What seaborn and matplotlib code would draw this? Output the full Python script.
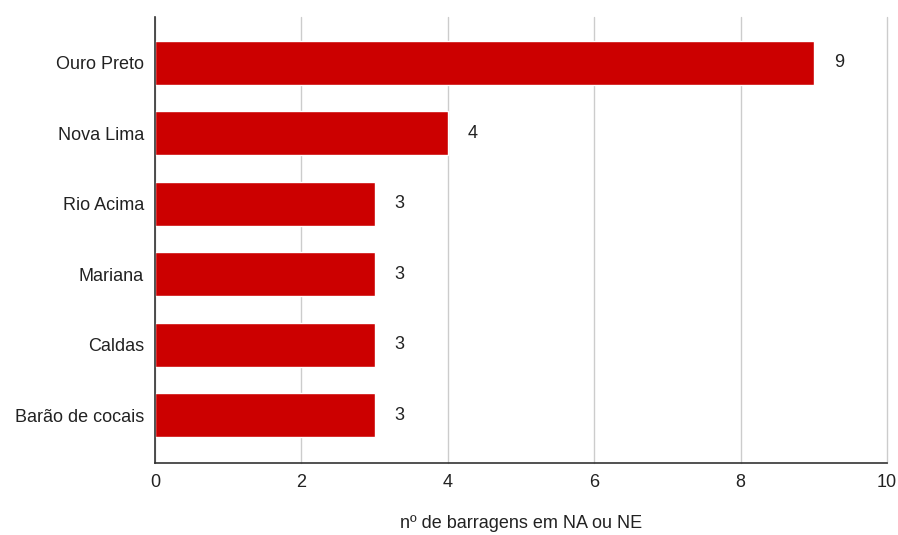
import matplotlib
matplotlib.use("Agg")
import matplotlib.pyplot as plt
import seaborn as sns
import pandas as pd

categories = ["Ouro Preto", "Nova Lima", "Rio Acima", "Mariana", "Caldas", "Barão de cocais"]
values = [9, 4, 3, 3, 3, 3]
xticks = [0, 2, 4, 6, 8, 10]

df = pd.DataFrame({"municipio": categories, "n": values})

sns.set_theme(style="white")
plt.rcParams["font.family"] = ["Liberation Sans", "DejaVu Sans"]

fig = plt.figure(figsize=(8.98, 5.35), dpi=100)
ax = fig.add_axes([0.1726, 0.1346, 0.8152, 0.8336])

sns.barplot(data=df, x="n", y="municipio", orient="h", color="#cc0000",
            saturation=1, width=0.625, ax=ax, zorder=3)

ax.set_xlim(0, 10)
ax.set_ylim(5.68, -0.653)
ax.set_xticks(xticks)
ax.set_xticklabels([str(t) for t in xticks], fontsize=13, color="#222222")
ax.tick_params(axis="y", labelsize=13, colors="#222222", length=0, pad=8)
ax.tick_params(axis="x", length=0, pad=8)
ax.grid(axis="x", color="#cccccc", linewidth=1, zorder=0)
for gl in ax.get_xgridlines():
    gl.set_clip_on(False)
ax.set_axisbelow(True)
for s in ["top", "right"]:
    ax.spines[s].set_visible(False)
for s in ["left", "bottom"]:
    ax.spines[s].set_color("#333333")
    ax.spines[s].set_linewidth(1.2)
    ax.spines[s].set_zorder(5)
ax.set_ylabel("")
ax.set_xlabel("nº de barragens em NA ou NE", fontsize=13, color="#222222", labelpad=17)

for p, v in zip(ax.patches, values):
    ax.annotate(str(v), (p.get_width(), p.get_y() + p.get_height() / 2),
                xytext=(25, 0), textcoords="offset pixels",
                ha="center", va="center", fontsize=13, color="#222222")

fig.savefig("out.png", dpi=100)
